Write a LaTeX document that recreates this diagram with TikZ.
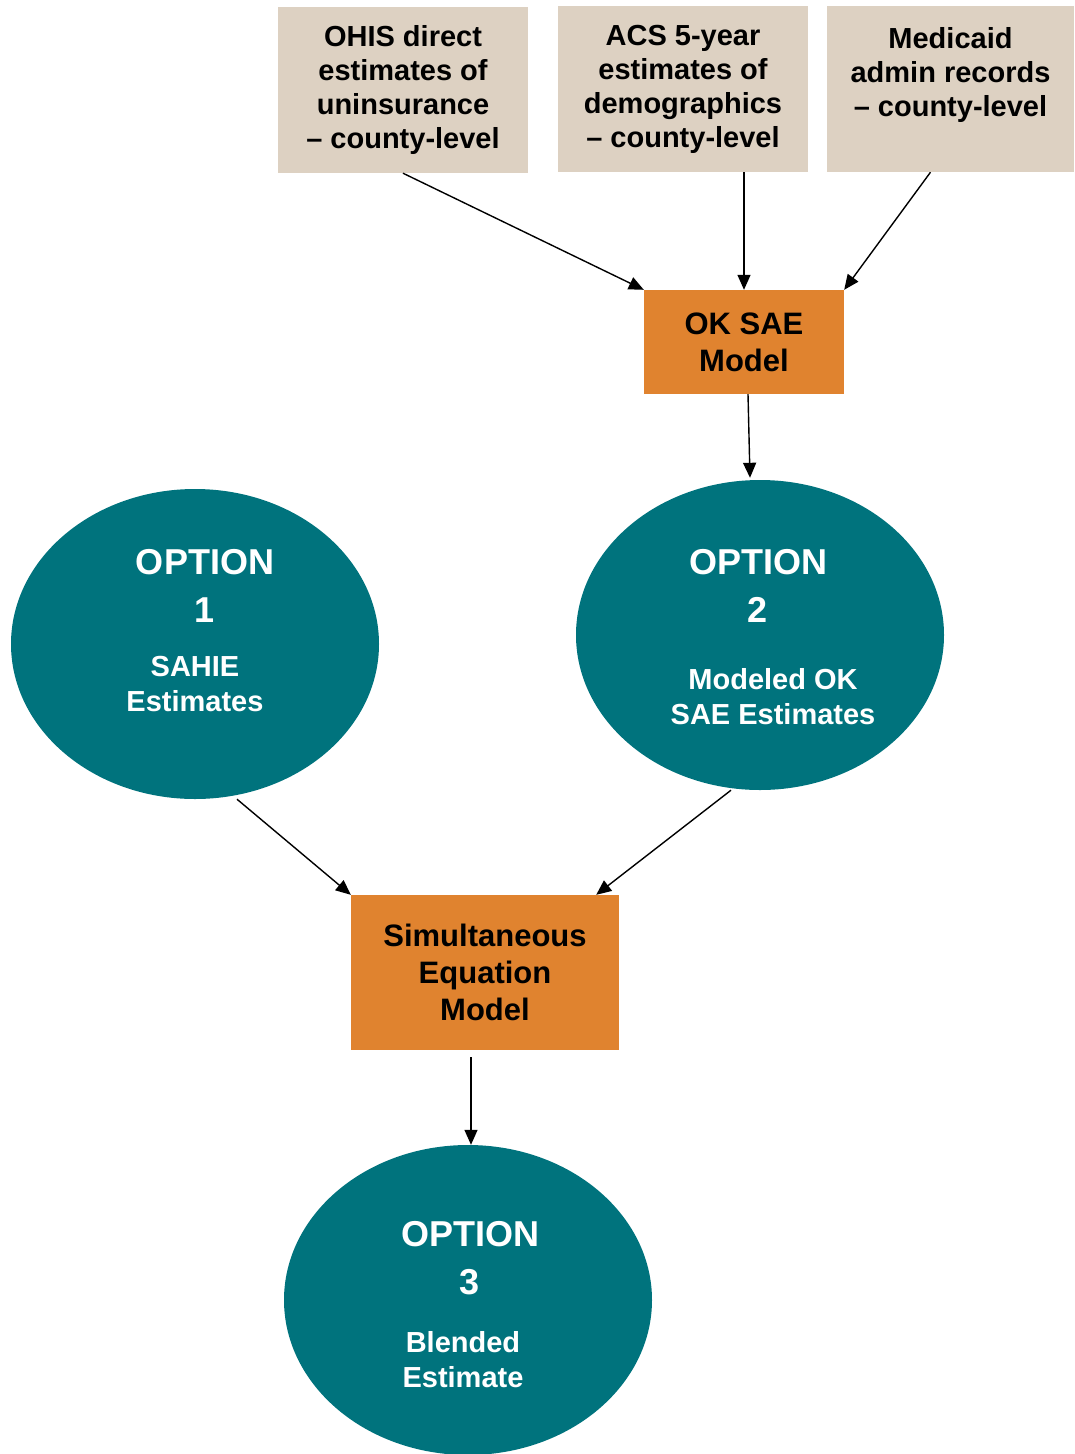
\documentclass[tikz,border=0pt]{standalone}
\usepackage{fontspec}
\setmainfont{Liberation Sans}
\usepackage{tikz}
\usetikzlibrary{arrows.meta,shapes.geometric}
\definecolor{srcbeige}{RGB}{221,209,194}
\definecolor{modelorange}{RGB}{224,131,47}
\definecolor{optteal}{RGB}{0,115,125}

\begin{document}
\begin{tikzpicture}[x=1pt,y=-1pt,
		src/.style={fill=srcbeige,minimum width=250pt,minimum height=166pt,inner sep=0pt,align=center,font=\fontsize{29}{34}\selectfont\bfseries},
		model/.style={fill=modelorange,inner sep=0pt,align=center,font=\fontsize{31}{37}\selectfont\bfseries},
		option/.style={ellipse,fill=optteal,minimum width=368pt,minimum height=310pt,inner sep=0pt},
		opttitle/.style={text=white,align=center,font=\fontsize{36}{48}\selectfont\bfseries},
		optdesc/.style={text=white,align=center,font=\fontsize{29}{35}\selectfont\bfseries},
		arr/.style={-{Triangle[length=15pt,width=13pt]},line width=1.4pt}]
				\useasboundingbox (0,0) rectangle (1074,1454);
				\node[src] (ohis) at (403,90) {OHIS direct\\estimates of\\uninsurance\\-- county-level};
				\node[src] (acs) at (683,89) {ACS 5-year\\estimates of\\demographics\\-- county-level};
				\node[src,minimum width=247pt] (medicaid) at (950.5,89) {Medicaid\\admin records\\-- county-level\\\mbox{}};
				\node[model,minimum width=200pt,minimum height=104pt] (oksae) at (744,342) {OK SAE\\Model};
				\node[option] (opt1) at (195,644) {};
				\node[option] (opt2) at (760,635) {};
				\node[model,minimum width=268pt,minimum height=155pt] (sem) at (485,972.5) {Simultaneous\\Equation\\Model};
				\node[option] (opt3) at (468,1300) {};
				\node[opttitle] (opt1title) at (205,586) {OPTION\\1};
				\node[optdesc] (opt1desc) at (195,684) {SAHIE\\Estimates};
				\node[opttitle] (opt2title) at (758,586) {OPTION\\2};
				\node[optdesc] (opt2desc) at (773,697) {Modeled OK\\SAE Estimates};
				\node[opttitle] (opt3title) at (470,1258) {OPTION\\3};
				\node[optdesc] (opt3desc) at (463,1360) {Blended\\Estimate};
				\draw[arr] (ohis.south) -- (oksae.north west);
				\draw[arr] (oksae.north |- acs.south) -- (oksae.north);
				\draw[arr] ([xshift=-20pt]medicaid.south) -- (oksae.north east);
				\draw[arr] ([xshift=4pt]oksae.south) -- ([xshift=-10pt,yshift=2pt]opt2.north);
				\draw[arr] ([xshift=42pt]opt1.south) -- (sem.north west);
				\draw[arr] ([xshift=-29pt]opt2.south) -- ([xshift=-23pt]sem.north east);
				\draw[arr] ([xshift=3pt,yshift=-7pt]opt3.north |- sem.south) -- ([xshift=3pt]opt3.north);
			\end{tikzpicture}
\end{document}
